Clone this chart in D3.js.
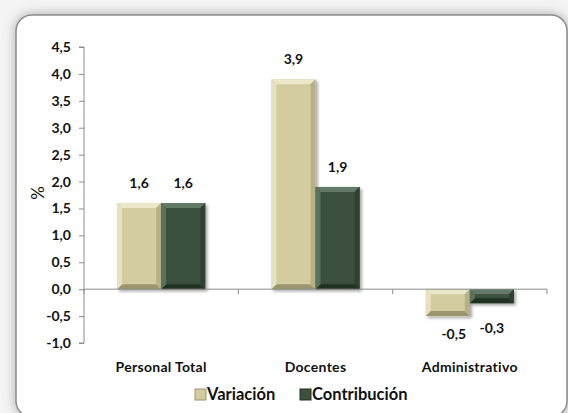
<!DOCTYPE html>
<html>
<head>
<meta charset="utf-8">
<script src="https://cdn.jsdelivr.net/npm/d3@7"></script>
<style>
  body { margin: 0; background: #eeeeee; }
  svg { display: block; }
  text { font-family: Lato, "Open Sans", sans-serif; font-weight: bold; fill: #111; }
</style>
</head>
<body>
<div class="chart"></div>
<script>
const categories = ["Personal Total", "Docentes", "Administrativo"];
const series = ["Variación", "Contribución"];
const variacion = [1.6, 3.9, -0.5];
const contribucion = [1.6, 1.9, -0.26];
const yTicks = [-1, -0.5, 0, 0.5, 1, 1.5, 2, 2.5, 3, 3.5, 4, 4.5];

const colors = {
  "Variación": {base: "#d3cc9f", light: "#ebe7c9", dark: "#9c9670", side: "#b8b186"},
  "Contribución": {base: "#3b503d", light: "#627a65", dark: "#223024", side: "#2e4130"}
};

const width = 568, height = 413;
const locale = d3.formatLocale({decimal: ",", thousands: ".", grouping: [3], currency: ["", ""], minus: "-"});
const fmt = locale.format(".1f");

const svg = d3.select(".chart").append("svg")
    .attr("width", width)
    .attr("height", height);

const defs = svg.append("defs");
const frameShadow = defs.append("filter").attr("id", "frameShadow")
    .attr("x", "-10%").attr("y", "-10%").attr("width", "120%").attr("height", "120%");
frameShadow.append("feDropShadow")
    .attr("dx", 0).attr("dy", 0).attr("stdDeviation", 6)
    .attr("flood-color", "#777").attr("flood-opacity", 0.6);

const barShadow = defs.append("filter").attr("id", "barShadow")
    .attr("x", "-20%").attr("y", "-20%").attr("width", "150%").attr("height", "150%");
barShadow.append("feDropShadow")
    .attr("dx", 2).attr("dy", 2).attr("stdDeviation", 1.5)
    .attr("flood-color", "#000").attr("flood-opacity", 0.35);

// background fade + frame
svg.append("rect").attr("width", width).attr("height", height).attr("fill", "#f4f4f4");
svg.append("rect")
    .attr("x", 16).attr("y", 15)
    .attr("width", 551).attr("height", 402)
    .attr("rx", 16)
    .attr("fill", "#fff")
    .attr("stroke", "#8c8c8c")
    .attr("stroke-width", 1.5)
    .attr("filter", "url(#frameShadow)");

const x0 = d3.scaleBand().domain(categories).range([84, 547]).padding(0);
const x1 = d3.scaleBand().domain(series).range([0, x0.bandwidth()])
    .paddingInner(0).paddingOuter(0.75);
const y = d3.scaleLinear().domain([-1, 4.5]).range([343, 47]);

// y axis
const yAxis = svg.append("g")
    .attr("transform", "translate(84,0)")
    .call(d3.axisLeft(y).tickValues(yTicks).tickFormat(fmt).tickSize(5).tickPadding(8));
yAxis.select(".domain").attr("stroke", "#8c8c8c").attr("d", `M-5,${y(4.5)}H0V${y(-1)}H-5`);
yAxis.selectAll(".tick line").attr("stroke", "#8c8c8c");
yAxis.selectAll(".tick text").style("font-size", "14px").style("font-family", "Lato").style("font-weight", "bold").attr("fill", "#111");

// y title
svg.append("text")
    .attr("transform", `translate(44,${(y(4.5) + y(-1)) / 2 - 2}) rotate(-90)`)
    .attr("text-anchor", "middle")
    .style("font-size", "17px")
    .style("font-weight", "normal")
    .text("%");

// bars
const rows = categories.map((c, i) => ({
  cat: c,
  values: [{s: series[0], v: variacion[i]}, {s: series[1], v: contribucion[i]}]
}));

const b = 5;
function bevelBar(g, xPos, w, v, col) {
  const top = y(Math.max(0, v)), bot = y(Math.min(0, v));
  const h = bot - top;
  const x2 = xPos + w;
  const gg = g.append("g").attr("filter", "url(#barShadow)");
  gg.append("rect").attr("x", xPos).attr("y", top).attr("width", w).attr("height", h).attr("fill", col.base);
  const bb = Math.min(b, h / 2);
  // top edge
  gg.append("polygon").attr("points", [[xPos, top], [x2, top], [x2 - bb, top + bb], [xPos + bb, top + bb]].join(" ")).attr("fill", col.light);
  // bottom edge
  gg.append("polygon").attr("points", [[xPos, bot], [x2, bot], [x2 - bb, bot - bb], [xPos + bb, bot - bb]].join(" ")).attr("fill", col.dark);
  // left edge
  gg.append("polygon").attr("points", [[xPos, top], [xPos + bb, top + bb], [xPos + bb, bot - bb], [xPos, bot]].join(" ")).attr("fill", col.light).attr("opacity", 0.8);
  // right edge
  gg.append("polygon").attr("points", [[x2, top], [x2 - bb, top + bb], [x2 - bb, bot - bb], [x2, bot]].join(" ")).attr("fill", col.side);
}

const groups = svg.selectAll(".cat")
    .data(rows)
  .enter().append("g")
    .attr("class", "cat")
    .attr("transform", (d) => `translate(${x0(d.cat)},0)`);

groups.each(function(d) {
  const g = d3.select(this);
  d.values.forEach((e) => {
    bevelBar(g, x1(e.s), x1.bandwidth(), e.v, colors[e.s]);
  });
});

// x axis (at zero)
const xAxis = svg.append("g").attr("transform", `translate(0,${y(0)})`);
xAxis.append("line").attr("x1", 84).attr("x2", 547).attr("stroke", "#8c8c8c");
const bounds = categories.map((c) => x0(c)).concat([x0(categories[categories.length - 1]) + x0.bandwidth()]);
xAxis.selectAll(".xt").data(bounds).enter().append("line")
    .attr("x1", (d) => d).attr("x2", (d) => d)
    .attr("y1", 0).attr("y2", 5)
    .attr("stroke", "#8c8c8c");

// value labels
groups.each(function(d) {
  const g = d3.select(this);
  d.values.forEach((e, j) => {
    const cx = x1(e.s) + x1.bandwidth() / 2;
    const neg = e.v < 0;
    g.append("text")
        .attr("x", neg && j === 0 ? cx + 6 : cx)
        .attr("y", neg ? y(e.v) + (j === 0 ? 23 : 30) : y(e.v) - 15)
        .attr("text-anchor", "middle")
        .style("font-size", "14px")
        .text(fmt(e.v));
  });
});

// category labels
svg.selectAll(".catlabel")
    .data(categories)
  .enter().append("text")
    .attr("x", (d) => x0(d) + x0.bandwidth() / 2)
    .attr("y", 372)
    .attr("text-anchor", "middle")
    .style("font-size", "14px")
    .style("letter-spacing", "0.3px")
    .text((d) => d);

// legend
const legend = svg.append("g");
const legendX = [195, 300];
series.forEach((s, i) => {
  const lg = legend.append("g").attr("transform", `translate(${legendX[i]},389)`);
  lg.append("rect").attr("width", 11).attr("height", 11).attr("fill", colors[s].base)
      .attr("stroke", colors[s].dark).attr("stroke-width", 1);
  lg.append("text").attr("x", 12).attr("y", 11).style("font-size", "16.5px").text(s);
});
</script>
</body>
</html>
